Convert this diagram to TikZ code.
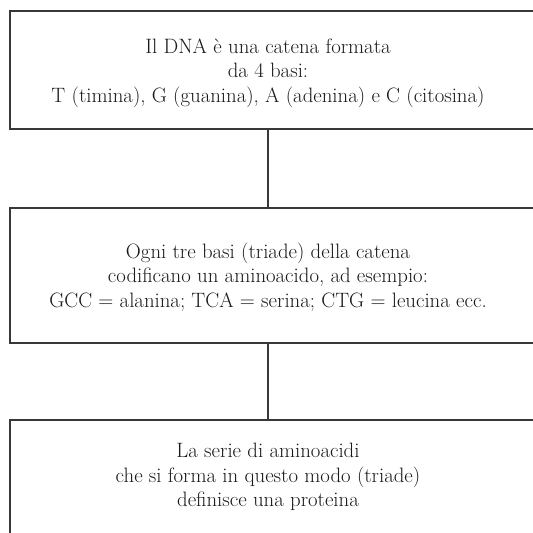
\documentclass[tikz,border=0pt]{standalone}
\usepackage{tikz}
\usetikzlibrary{calc}
\definecolor{LineGray}{rgb}{0.22,0.22,0.22}
\definecolor{TextBlack}{rgb}{0.1,0.1,0.1}
\tikzset{
  stepframe/.style={draw=LineGray,line width=1.6pt,minimum width=540pt,inner sep=0pt},
  steptext/.style={align=center,text=TextBlack,font=\fontsize{20.8}{24.5}\selectfont,inner sep=0pt},
  link/.style={draw=LineGray,line width=1.6pt}
}

\begin{document}
\begin{tikzpicture}[x=1pt,y=-1pt]
      \useasboundingbox (0,0) rectangle (533,533);
      \clip (0,0) rectangle (533,533);
      % frames
      \node[stepframe,minimum height=118pt,anchor=north west] (dnabox) at (9,10) {};
      \node[stepframe,minimum height=135pt,anchor=north west] (triadbox) at (9,207) {};
      \node[stepframe,minimum height=135pt,anchor=north west] (protbox) at (9,419) {};
      % texts
      \node[steptext] (dna) at (268,73) {Il DNA è una catena formata\\da 4 basi:\\T (timina), G (guanina), A (adenina) e C (citosina)};
      \node[steptext] (triad) at (268,277) {Ogni tre basi (triade) della catena\\codificano un aminoacido, ad esempio:\\GCC = alanina; TCA = serina; CTG = leucina ecc.};
      \node[steptext] (prot) at (268,477) {La serie di aminoacidi\\che si forma in questo modo (triade)\\definisce una proteina};
      % connectors
      \draw[link] (dnabox.south -| dna) -- (triadbox.north -| dna);
      \draw[link] (triadbox.south -| triad) -- (protbox.north -| triad);
\end{tikzpicture}
\end{document}
